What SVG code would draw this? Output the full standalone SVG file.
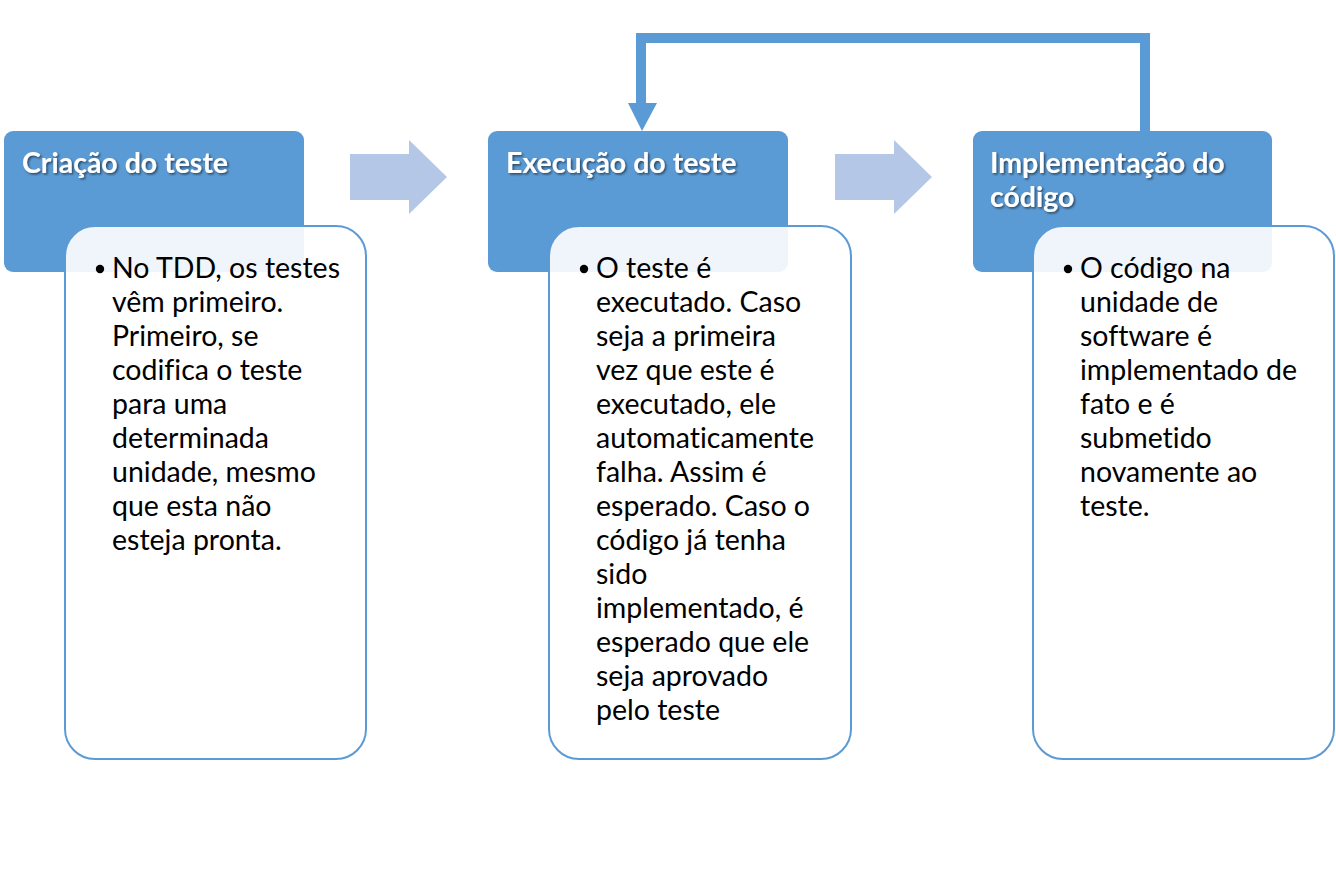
<svg xmlns="http://www.w3.org/2000/svg" width="1336" height="889" viewBox="0 0 1336 889">
<defs>
<style>
.hdr{fill:#5b9bd5;}
.card{fill:#ffffff;fill-opacity:0.9;stroke:#5b9bd5;stroke-width:2;}
.title{font-family:Lato,"Liberation Sans",sans-serif;font-weight:bold;font-size:28.5px;fill:#ffffff;filter:url(#sh);}
.body{font-family:Lato,"Liberation Sans",sans-serif;font-size:28.5px;fill:#000000;font-variant-ligatures:none;}
.blk{fill:#b4c7e7;}
.fb{fill:none;stroke:#5b9bd5;stroke-width:10;}
.dot{fill:#000000;}
</style>
<filter id="sh" x="-10%" y="-30%" width="120%" height="160%">
<feDropShadow dx="1.5" dy="1.5" stdDeviation="1" flood-color="#000000" flood-opacity="0.55"/>
</filter>
</defs>
<rect width="1336" height="889" fill="#ffffff"/>
<g id="connectors">
<path class="blk" d="M350,154 H409 V140 L447,177 L409,214 V200 H350 Z"/>
<path class="blk" d="M835,154 H894 V140 L932,177 L894,214 V200 H835 Z"/>
<path class="fb" d="M1145,131 V38 H641 V104"/>
<path fill="#5b9bd5" d="M628,103 H657 L642,131 Z"/>
</g>
<g id="node1">
<rect class="hdr" x="4" y="131" width="300" height="141" rx="9"/>
<text class="title" x="22" y="173">Criação do teste</text>
<rect class="card" x="65" y="226" width="301" height="533" rx="30"/>
<circle class="dot" cx="100" cy="269" r="4.2"/>
<text class="body"><tspan x="112" y="278">No TDD, os testes</tspan><tspan x="112" y="312">vêm primeiro.</tspan><tspan x="112" y="346">Primeiro, se</tspan><tspan x="112" y="380">codifica o teste</tspan><tspan x="112" y="414">para uma</tspan><tspan x="112" y="448">determinada</tspan><tspan x="112" y="482">unidade, mesmo</tspan><tspan x="112" y="516">que esta não</tspan><tspan x="112" y="550">esteja pronta.</tspan></text>
</g>
<g id="node2">
<rect class="hdr" x="488" y="131" width="300" height="141" rx="9"/>
<text class="title" x="506" y="173">Execução do teste</text>
<rect class="card" x="549" y="226" width="302" height="533" rx="30"/>
<circle class="dot" cx="584" cy="269" r="4.2"/>
<text class="body"><tspan x="596" y="278">O teste é</tspan><tspan x="596" y="312">executado. Caso</tspan><tspan x="596" y="346">seja a primeira</tspan><tspan x="596" y="380">vez que este é</tspan><tspan x="596" y="414">executado, ele</tspan><tspan x="596" y="448">automaticamente</tspan><tspan x="596" y="482">falha. Assim é</tspan><tspan x="596" y="516">esperado. Caso o</tspan><tspan x="596" y="550">código já tenha</tspan><tspan x="596" y="584">sido</tspan><tspan x="596" y="618">implementado, é</tspan><tspan x="596" y="652">esperado que ele</tspan><tspan x="596" y="686">seja aprovado</tspan><tspan x="596" y="720">pelo teste</tspan></text>
</g>
<g id="node3">
<rect class="hdr" x="973" y="131" width="299" height="141" rx="9"/>
<text class="title"><tspan x="990" y="173">Implementação do</tspan><tspan x="990" y="207">código</tspan></text>
<rect class="card" x="1033" y="226" width="301" height="533" rx="30"/>
<circle class="dot" cx="1068" cy="269" r="4.2"/>
<text class="body"><tspan x="1080" y="278">O código na</tspan><tspan x="1080" y="312">unidade de</tspan><tspan x="1080" y="346">software é</tspan><tspan x="1080" y="380">implementado de</tspan><tspan x="1080" y="414">fato e é</tspan><tspan x="1080" y="448">submetido</tspan><tspan x="1080" y="482">novamente ao</tspan><tspan x="1080" y="516">teste.</tspan></text>
</g>
</svg>
